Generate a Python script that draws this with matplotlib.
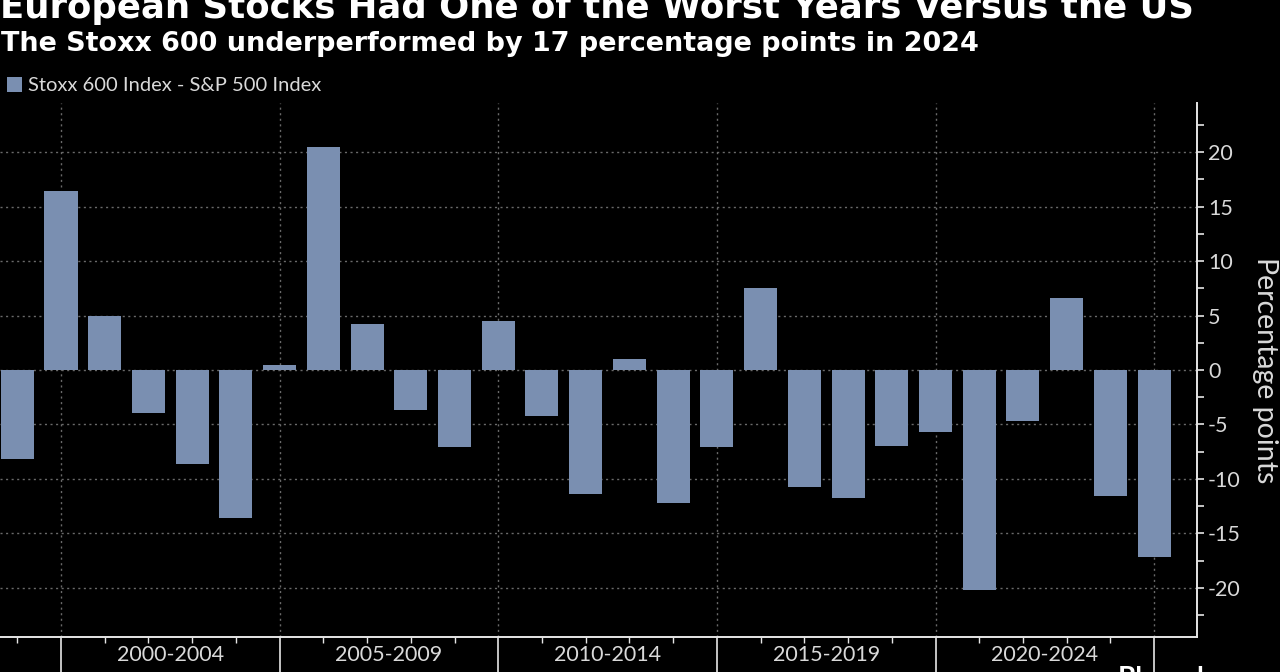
import matplotlib
matplotlib.use("Agg")
import matplotlib.pyplot as plt
from matplotlib.ticker import MultipleLocator, FixedLocator, NullFormatter

plt.rcParams['axes.unicode_minus'] = False

# ---- data ----
years = list(range(1998, 2025))
values = [-8.2, 16.4, 5.0, -3.9, -8.6, -13.6, 0.5,
          20.5, 4.2, -3.7, -7.1, 4.5,
          -4.2, -11.4, 1.0, -12.2, -7.1,
          7.5, -10.7, -11.7, -7.0, -5.7,
          -20.2, -4.7, 6.6, -11.6, -17.2]
period_labels = ["2000-2004", "2005-2009", "2010-2014", "2015-2019", "2020-2024"]
period_starts = [2000, 2005, 2010, 2015, 2020]
series_name = "Stoxx 600 Index - S&P 500 Index"
title = "European Stocks Had One of the Worst Years Versus the US"
subtitle = "The Stoxx 600 underperformed by 17 percentage points in 2024"
ylabel = "Percentage points"

BAR = "#7a8fb1"
GRID = "#6a6a6a"
AX = "#e6e6e6"
TXT = "#d9d9d9"

W, H = 1280, 672
fig = plt.figure(figsize=(W / 100, H / 100), dpi=100, facecolor="black")
ax = fig.add_axes([0.0, (H - 637) / H, 1197 / W, (637 - 103) / H], facecolor="black")

# bars are placed at year-end (start of the next year)
xpos = [y + 1 for y in years]
bars = ax.bar(xpos, values, width=0.755, color=BAR, zorder=3, label=series_name)

ax.set_xlim(1998.605, 2025.98)
ax.set_ylim(-24.5, 24.5)

# spines
for s in ["left", "top"]:
    ax.spines[s].set_visible(False)
ax.spines["right"].set_color(AX)
ax.spines["bottom"].set_color(AX)
ax.spines["right"].set_linewidth(1.4)
ax.spines["bottom"].set_linewidth(1.4)

# y axis on right
ax.yaxis.tick_right()
ax.yaxis.set_label_position("right")
ax.yaxis.set_major_locator(MultipleLocator(5))
ax.yaxis.set_minor_locator(MultipleLocator(2.5))
ax.tick_params(axis="y", which="both", direction="out", length=5, width=1.2,
               color=AX, labelcolor=TXT, labelsize=15.5, pad=3)
for lab in ax.get_yticklabels():
    lab.set_fontfamily("Lato")

# x axis
major_x = period_starts + [2025]
ax.xaxis.set_major_locator(FixedLocator(major_x))
ax.xaxis.set_major_formatter(NullFormatter())
ax.xaxis.set_minor_locator(FixedLocator(list(range(1999, 2026))))
ax.tick_params(axis="x", which="major", direction="out", length=28, width=1.2, color=AX)
ax.tick_params(axis="x", which="minor", direction="out", length=4, width=1.0, color=AX)
for start, lab in zip(period_starts, period_labels):
    ax.text(start + 2.5, -0.033, lab, transform=ax.get_xaxis_transform(),
            ha="center", va="center", color=TXT, fontsize=15.5, fontfamily="Lato")

# grid
ax.grid(True, which="major", axis="both", color=GRID, linestyle=(0, (1.5, 2.5)),
        linewidth=1.0, zorder=0)

ax.set_ylabel(ylabel, rotation=270, color=TXT, fontsize=20.5, fontfamily="Lato",
              ha="center", va="center")
ax.yaxis.set_label_coords(1265 / 1197, 0.5)

# titles
fig.text(0.0, 1 - 18 / H, title, color="white", fontsize=25.6, fontweight="bold",
         fontfamily="DejaVu Sans", ha="left", va="baseline")
fig.text(0.001, 1 - 51 / H, subtitle, color="white", fontsize=19.45, fontweight="bold",
         fontfamily="DejaVu Sans", ha="left", va="baseline")

# legend
leg = fig.legend(handles=[bars], labels=[series_name], loc="upper left",
                 bbox_to_anchor=(7 / W, 1 - 77 / H), frameon=False,
                 handlelength=0.75, handleheight=0.75, handletextpad=0.3,
                 borderaxespad=0, borderpad=0,
                 prop={"family": "Lato", "size": 14.5})
for t in leg.get_texts():
    t.set_color(TXT)

# source (cropped at bottom)
fig.text(1118 / W, 1 - 666 / H, "Bloomberg", color="white", fontsize=20,
         fontweight="bold", fontfamily="Lato", ha="left", va="top")

fig.savefig("out.png", dpi=100, facecolor="black")
